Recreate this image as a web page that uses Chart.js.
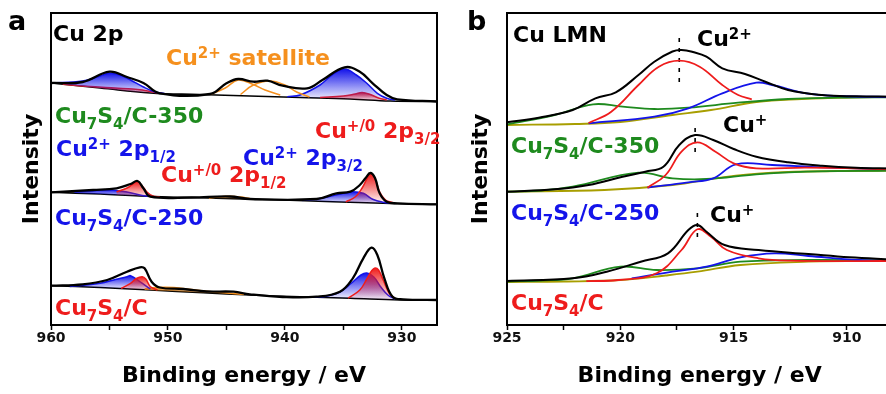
<!DOCTYPE html>
<html>
<head>
<meta charset="utf-8">
<script src="https://cdn.jsdelivr.net/npm/chart.js@4.4.1/dist/chart.umd.min.js"></script>
<style>
  html, body { margin: 0; padding: 0; background: #fff; overflow: hidden; width: 886px; height: 394px; }
  #ca { position: absolute; left: 0; top: 0; }
  #cb { position: absolute; left: 443px; top: 0; }
</style>
</head>
<body>
<canvas id="ca" width="443" height="394"></canvas>
<canvas id="cb" width="452" height="394"></canvas>
<script>
// Cu 2p / Cu LMN XPS fits. [binding energy eV, stacked intensity a.u.]
// Panel a: Cu 2p
const A350_BASE = [[960, 242], [955.8, 237], [951.5, 232], [947.3, 230.5], [943, 229], [938.7, 227.5], [934.4, 226], [931, 224], [927, 223.5]];
const A350_ENV = [[960, 242], [957.3, 243], [955, 253.3], [953.5, 248], [952.1, 242], [950.7, 231.7], [946.4, 231], [945, 241.7], [944, 246], [942.7, 243.3], [941.5, 244.3], [940.2, 239.3], [938.1, 236.7], [936.8, 245], [934.9, 257.7], [933.6, 253.3], [932.5, 241.7], [931.3, 230], [930.4, 225.7], [927, 223.5]];
const A350_B12 = [[960, 242], [957.3, 244], [955.8, 249], [955, 252], [954, 249.5], [953.2, 245], [952.1, 238], [951.1, 233], [950.3, 231.5]];
const A350_R12 = [[959, 240.8], [957, 238.8], [954.5, 237], [953, 236], [952.2, 235], [951.3, 233], [950.5, 231.8]];
const A350_SAT1 = [[946.4, 230.5], [945.1, 237], [944, 245], [942.7, 240.5], [941.7, 235], [940.4, 230]];
const A350_SAT2 = [[943.8, 230.5], [942.7, 240], [941.3, 244], [940, 240], [939, 233], [937.9, 228]];
const A350_B32 = [[939.8, 228.3], [938.7, 230], [937, 240], [935.9, 250.7], [934.9, 256], [933.9, 250], [933, 241.7], [932.1, 231.7], [931.3, 226.7], [930.6, 225]];
const A350_R32 = [[937, 227.5], [935, 229], [934, 231], [933.4, 232.5], [932.7, 230.5], [932, 227], [931.3, 225]];

const A250_BASE = [[960, 132.7], [955.8, 131], [952.4, 129], [948.7, 127.7], [940.2, 125], [931.6, 121.7], [927, 120.7]];
const A250_ENV = [[960, 132.7], [956.4, 135], [954.4, 136.7], [953.2, 141], [952.6, 144], [952.1, 136.7], [951.5, 128.3], [948, 127.5], [944.7, 128.5], [943, 126], [937.3, 126], [935.6, 131.7], [934.4, 133.3], [933.6, 140], [933.1, 147], [932.7, 152], [932.3, 147], [931.9, 131.7], [931.3, 123.3], [930.4, 121.7], [927, 120.7]];
const A250_B12 = [[958, 133.2], [956.5, 134.2], [955.2, 135.3], [953.5, 133], [952.2, 129.5], [951.2, 128.3]];
const A250_R12 = [[954.4, 133.3], [953.5, 137], [952.9, 142], [952.6, 143.5], [952.2, 139], [951.8, 133], [951.3, 129], [950.7, 128]];
const A250_SAT = [[946.5, 127], [945.5, 128.2], [944.7, 128.8], [943.8, 128], [943, 126.5]];
const A250_B32 = [[938.5, 124.5], [937, 126.5], [935, 131.7], [934.2, 133.3], [933.3, 131.7], [932.5, 125.7], [931.6, 122.7], [930.8, 121.7]];
const A250_R32 = [[934.8, 123.2], [934, 128], [933.4, 137], [933, 146], [932.7, 151], [932.3, 146], [931.9, 133], [931.4, 125], [930.8, 122.5]];

const AC_BASE = [[960, 39.3], [955.8, 37.5], [951.5, 35], [947, 32.3], [943, 30], [938.7, 28.2], [934.4, 26.7], [930.2, 25], [927, 25]];
const AC_ENV = [[960, 39.3], [957.3, 40.7], [955.2, 45], [953.5, 53.3], [952.4, 57.7], [952, 56.7], [951.4, 43.3], [950.7, 37.5], [948.7, 36], [946.7, 33.5], [944.4, 33.3], [943, 30.7], [940.2, 28], [937.3, 28.3], [935.3, 33.3], [934.2, 46.7], [933.3, 66.7], [932.6, 77.3], [932.1, 70], [931.5, 46.7], [930.8, 28.3], [929.9, 25.7], [927, 25]];
const AC_B12 = [[958.4, 38.5], [955.8, 41.7], [954.5, 45.5], [953.5, 48.3], [953.2, 49.3], [952.4, 43.3], [951.5, 36]];
const AC_R12 = [[954, 36.5], [953.2, 41.7], [952.7, 46.5], [952.2, 48.3], [951.9, 46], [951.5, 38.3], [950.9, 35]];
const AC_SAT = [[952, 36], [951, 37.5], [949.5, 37.5], [948, 35.5], [946.5, 33.5], [945, 32], [943.5, 30.6]];
const AC_B32 = [[937.5, 28], [936.5, 28.8], [935.3, 33], [934.3, 42], [933.5, 50], [933, 52], [932.4, 48], [931.8, 38], [931.2, 30], [930.6, 26]];
const AC_R32 = [[934.6, 26.8], [933.6, 35], [933, 46], [932.6, 54], [932.3, 57], [932, 55], [931.6, 45], [931.1, 32], [930.6, 26.5]];

// Panel b: Cu LMN
const B350_BASE = [[925, 200], [922, 201], [920, 203], [917.7, 210], [916, 215], [914, 223], [912, 226], [910, 227.5], [908, 228]];
const B350_ENV = [[925, 202.7], [923.6, 207.3], [922.1, 215], [921.1, 226.7], [920.2, 232.7], [919.2, 250], [918.5, 263.3], [917.7, 273.5], [917.3, 275], [916.8, 273], [916.2, 268.3], [915.5, 256.7], [914.5, 251], [913.6, 243.3], [912.6, 235], [911.1, 230], [909.6, 228.7], [908, 228.3]];
const B350_RED = [[921.4, 202], [920.4, 213.3], [919.2, 240], [918.3, 258.3], [917.4, 264.3], [916.5, 258.3], [915.5, 240], [914.8, 230], [914.2, 225.7]];
const B350_BLUE = [[921.4, 201.7], [918.5, 208.3], [917, 216.7], [915.5, 231.7], [914, 242.3], [913.3, 240], [911.8, 231.7], [910.4, 229], [908, 228]];
const B350_GREEN = [[925, 200.7], [922.9, 210], [921.2, 220.7], [919.9, 218.3], [918.5, 216], [917, 217.3], [914.8, 222.3], [912.6, 226], [910.4, 227.3], [908, 227.7]];
const B350_MARK = [[917.4, 243], [917.4, 287]];

const B250_BASE = [[925, 133.3], [920.7, 135], [917.7, 140], [915.5, 147.7], [913.3, 152.3], [910.4, 154], [908, 154.3]];
const B250_ENV = [[925, 133.3], [922.9, 135.7], [921.4, 140], [919.9, 148.3], [918.9, 153.3], [918.1, 158.3], [917.4, 180], [916.7, 190], [915.9, 185], [915, 176], [914, 168.3], [912.6, 162.7], [911.1, 159.3], [909.6, 157.3], [908, 156.5]];
const B250_RED = [[918.8, 137.3], [918, 150], [917.3, 173.3], [916.6, 182.7], [915.8, 173.3], [915, 161.7], [914, 156.7], [911.8, 157.3], [908, 155.7]];
const B250_BLUE = [[918.8, 137.5], [917, 142.7], [915.9, 146.7], [914.9, 160.7], [913.3, 160], [911.1, 157.7], [908, 155.7]];
const B250_GREEN = [[925, 133.3], [923.5, 134.5], [922.1, 138.3], [919.2, 152.3], [917.7, 146.7], [916.2, 146], [914, 150.7], [911.8, 153.3], [908, 154.3]];
const B250_MARK = [[916.7, 173], [916.7, 203]];

const BC_BASE = [[925, 43], [922.5, 43.5], [920, 45], [918, 49.5], [916.6, 53.3], [914.7, 60], [911.7, 63.3], [908, 64.5]];
const BC_ENV = [[925, 44], [922.1, 46.7], [920.6, 53.3], [919.1, 63.3], [917.9, 71.7], [917, 95], [916.6, 100], [916.2, 93.3], [915.4, 80], [913.9, 75], [911.7, 71], [909.9, 67.7], [908, 65.5]];
const BC_RED = [[921.5, 43.8], [920.1, 45], [918.4, 51.7], [917.3, 75], [916.6, 95.7], [916, 88.3], [915.3, 75], [913.9, 66.7], [912.5, 64.3], [908, 64]];
const BC_BLUE = [[919.5, 46.5], [917.7, 53.3], [916.2, 58.3], [914.7, 67.7], [913.2, 71.7], [911.7, 69], [909.5, 65], [908, 64.5]];
const BC_GREEN = [[925, 43.5], [923.5, 44.5], [922.1, 46.7], [920, 58.3], [918.4, 55], [916.6, 56.7], [914.7, 63.3], [911.7, 65], [908, 64.5]];
const BC_MARK = [[916.6, 88], [916.6, 117]];

const X_A = { min: 927, max: 960, step: 5, label: 10 };
const X_B = { min: 908, max: 925, step: 2.5, label: 5 };

const FONT = '"DejaVu Sans", sans-serif';
const COL = { black: '#000', blue: '#1414ea', red: '#ee1c1c', green: '#1e8a1e', orange: '#f5901e', olive: '#a89e00' };
const RGB = { blue: '20,20,234', red: '238,28,28', orange: '245,144,30' };

const pts = (arr) => arr.map(([x, y]) => ({ x, y }));

function curve(data, color, width, extra) {
  return {
    data: pts(data),
    borderColor: color,
    borderWidth: width,
    pointRadius: 0,
    tension: 0.4,
    fill: false,
    ...extra,
  };
}

// vertical fade from the peak top to the baseline
function fade(rgb) {
  return (c) => {
    const chart = c.chart;
    if (!chart.chartArea || !c.dataset) return `rgba(${rgb},0.5)`;
    const ys = c.dataset.data.map((p) => p.y);
    const y = chart.scales.y;
    const top = y.getPixelForValue(Math.max(...ys));
    const bot = y.getPixelForValue(Math.min(...ys));
    const g = chart.ctx.createLinearGradient(0, top, 0, bot + 0.5);
    g.addColorStop(0, `rgba(${rgb},1)`);
    g.addColorStop(1, `rgba(${rgb},0.04)`);
    return g;
  };
}

// one stacked spectrum for panel a: envelope on top, filled components, baseline last
function spectrumA(start, env, comps, base) {
  const baseIdx = start + 1 + comps.length;
  const list = [curve(env, COL.black, 2.3)];
  for (const c of comps) {
    list.push(curve(c.data, COL[c.color], 1.5, c.filled
      ? { fill: { target: baseIdx }, backgroundColor: fade(RGB[c.color]) }
      : {}));
  }
  list.push(curve(base, COL.black, 1.6));
  return list;
}

function spectrumB(env, red, blue, green, base, mark) {
  return [
    curve(env, COL.black, 2),
    curve(red, COL.red, 1.8),
    curve(blue, COL.blue, 1.8),
    curve(green, COL.green, 1.8),
    curve(base, COL.olive, 1.8),
    curve(mark, COL.black, 1.6, { tension: 0, borderDash: [4, 6] }),
  ];
}

function buildA() {
  let ds = [];
  ds = ds.concat(spectrumA(ds.length, A350_ENV, [
    { data: A350_B12, color: 'blue', filled: true },
    { data: A350_R12, color: 'red', filled: true },
    { data: A350_SAT1, color: 'orange', filled: false },
    { data: A350_SAT2, color: 'orange', filled: false },
    { data: A350_B32, color: 'blue', filled: true },
    { data: A350_R32, color: 'red', filled: true },
  ], A350_BASE));
  ds = ds.concat(spectrumA(ds.length, A250_ENV, [
    { data: A250_R12, color: 'red', filled: true },
    { data: A250_B12, color: 'blue', filled: true },
    { data: A250_SAT, color: 'orange', filled: true },
    { data: A250_R32, color: 'red', filled: true },
    { data: A250_B32, color: 'blue', filled: true },
  ], A250_BASE));
  ds = ds.concat(spectrumA(ds.length, AC_ENV, [
    { data: AC_R12, color: 'red', filled: true },
    { data: AC_B12, color: 'blue', filled: true },
    { data: AC_SAT, color: 'orange', filled: true },
    { data: AC_R32, color: 'red', filled: true },
    { data: AC_B32, color: 'blue', filled: true },
  ], AC_BASE));
  return ds;
}

function buildB() {
  return [
    ...spectrumB(B350_ENV, B350_RED, B350_BLUE, B350_GREEN, B350_BASE, B350_MARK),
    ...spectrumB(B250_ENV, B250_RED, B250_BLUE, B250_GREEN, B250_BASE, B250_MARK),
    ...spectrumB(BC_ENV, BC_RED, BC_BLUE, BC_GREEN, BC_BASE, BC_MARK),
  ];
}

// rich text: [text, 'sup'|'sub'|undefined]
function drawRich(ctx, x, y, color, runs, size = 22) {
  ctx.save();
  ctx.fillStyle = color;
  ctx.textBaseline = 'alphabetic';
  ctx.textAlign = 'left';
  for (const [t, k] of runs) {
    const small = k === 'sup' || k === 'sub';
    ctx.font = `bold ${small ? 15 : size}px ${FONT}`;
    const dy = k === 'sup' ? -7 : k === 'sub' ? 6 : 0;
    ctx.fillText(t, x, y + dy);
    x += ctx.measureText(t).width;
  }
  ctx.restore();
}

const cuS = (tail) => [['Cu'], ['7', 'sub'], ['S'], ['4', 'sub'], [tail]];

const LABELS_A = [
  { x: 8, y: 30, color: COL.black, runs: [['a']], size: 27 },
  { x: 53, y: 41, color: COL.black, runs: [['Cu 2p']] },
  { x: 166, y: 65, color: COL.orange, runs: [['Cu'], ['2+', 'sup'], [' satellite']] },
  { x: 55, y: 123, color: COL.green, runs: cuS('/C-350') },
  { x: 315, y: 138, color: COL.red, runs: [['Cu'], ['+/0', 'sup'], [' 2p'], ['3/2', 'sub']] },
  { x: 56, y: 156, color: COL.blue, runs: [['Cu'], ['2+', 'sup'], [' 2p'], ['1/2', 'sub']] },
  { x: 243, y: 165, color: COL.blue, runs: [['Cu'], ['2+', 'sup'], [' 2p'], ['3/2', 'sub']] },
  { x: 161, y: 182, color: COL.red, runs: [['Cu'], ['+/0', 'sup'], [' 2p'], ['1/2', 'sub']] },
  { x: 55, y: 225, color: COL.blue, runs: cuS('/C-250') },
  { x: 55, y: 315, color: COL.red, runs: cuS('/C') },
];

const LABELS_B = [
  { x: 24, y: 30, color: COL.black, runs: [['b']], size: 27 },
  { x: 70, y: 42, color: COL.black, runs: [['Cu LMN']] },
  { x: 254, y: 46, color: COL.black, runs: [['Cu'], ['2+', 'sup']] },
  { x: 68, y: 153, color: COL.green, runs: cuS('/C-350') },
  { x: 280, y: 132, color: COL.black, runs: [['Cu'], ['+', 'sup']] },
  { x: 68, y: 220, color: COL.blue, runs: cuS('/C-250') },
  { x: 267, y: 222, color: COL.black, runs: [['Cu'], ['+', 'sup']] },
  { x: 68, y: 310, color: COL.red, runs: cuS('/C') },
];

function decor(labels) {
  return {
    id: 'decor',
    afterDraw(chart) {
      const { ctx, chartArea: a } = chart;
      ctx.save();
      ctx.strokeStyle = '#000';
      ctx.lineWidth = 2;
      ctx.strokeRect(a.left, a.top, a.right - a.left, a.bottom - a.top);
      ctx.restore();
      for (const l of labels) drawRich(ctx, l.x, l.y, l.color, l.runs, l.size);
    },
  };
}

function makeChart(id, datasets, xr, labels, pad, yTitlePad) {
  return new Chart(document.getElementById(id), {
    type: 'line',
    data: { datasets },
    options: {
      responsive: false,
      animation: false,
      events: [],
      layout: { padding: pad },
      plugins: { legend: { display: false }, tooltip: { enabled: false } },
      scales: {
        x: {
          type: 'linear',
          reverse: true,
          min: xr.min,
          max: xr.max,
          ticks: {
            stepSize: xr.step,
            includeBounds: false,
            autoSkip: false,
            maxRotation: 0,
            padding: 0,
            color: '#111',
            font: { family: FONT, weight: 'bold', size: 14 },
            callback: (v) => (Math.abs(v % xr.label) < 1e-6 ? String(v) : ''),
          },
          grid: { drawOnChartArea: false, drawTicks: true, tickLength: 5, tickWidth: 1.5, tickColor: '#000' },
          border: { color: '#000', width: 2 },
          title: {
            display: true,
            text: 'Binding energy / eV',
            color: '#000',
            font: { family: FONT, weight: 'bold', size: 22 },
            padding: { top: 0, bottom: 5 },
          },
          afterFit: (s) => { s.height = 69; },
        },
        y: {
          min: 0,
          max: 312,
          ticks: { display: false },
          grid: { display: false, drawTicks: false },
          border: { color: '#000', width: 2 },
          title: {
            display: true,
            text: 'Intensity',
            color: '#000',
            font: { family: FONT, weight: 'bold', size: 22 },
            padding: { top: yTitlePad, bottom: 0 },
          },
          afterFit: (s) => { s.width = pad.yw; },
        },
      },
    },
    plugins: [decor(labels)],
  });
}

makeChart('ca', buildA(), X_A, LABELS_A, { left: 0, top: 13, right: 6, bottom: 0, yw: 51 }, 19);
makeChart('cb', buildB(), X_B, LABELS_B, { left: 0, top: 13, right: 2.7, bottom: 0, yw: 64 }, 25);
</script>
</body>
</html>
